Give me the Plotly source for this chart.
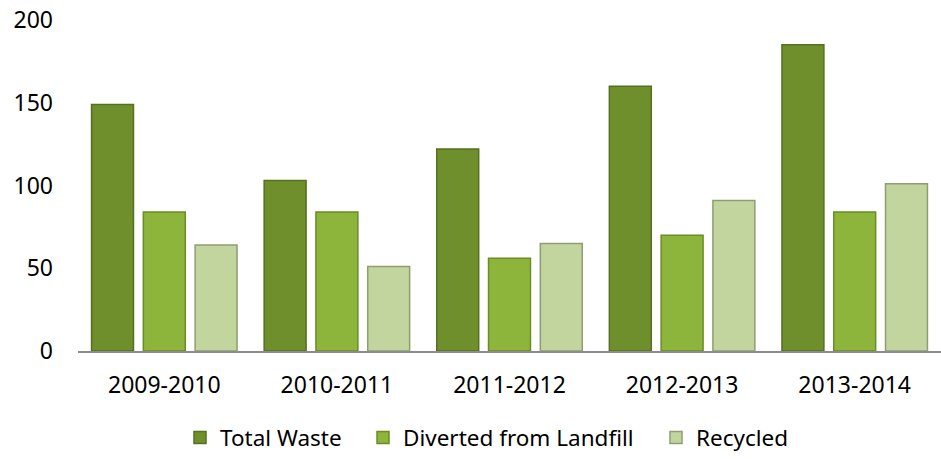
import plotly.graph_objects as go

categories = ["2009-2010", "2010-2011", "2011-2012", "2012-2013", "2013-2014"]
total_waste = [149, 103, 122, 160, 185]
diverted = [84, 84, 56, 70, 84]
recycled = [64, 51, 65, 91, 101]

series = [
    ("Total Waste", total_waste, "#6F8F2D", "#55701F", "legend"),
    ("Diverted from Landfill", diverted, "#8DB53B", "#6B8C27", "legend2"),
    ("Recycled", recycled, "#C2D59E", "#8E9E72", "legend3"),
]

fig = go.Figure()
for name, vals, col, edge, lg in series:
    fig.add_trace(go.Bar(
        name=name, x=categories, y=vals, legend=lg,
        marker=dict(color=col, line=dict(color=edge, width=1.5)),
    ))

font = "Noto Sans, Open Sans, sans-serif"
W = 941
leg_common = dict(orientation="h", xref="container", xanchor="left",
                  yref="container", y=0.046, yanchor="middle",
                  font=dict(size=22.5), itemwidth=30, bgcolor="rgba(0,0,0,0)")
fig.update_layout(
    width=W, height=459,
    margin=dict(l=78, r=0, t=20, b=108),
    paper_bgcolor="white", plot_bgcolor="white",
    barmode="group", bargap=0.1, bargroupgap=0.19,
    font=dict(family=font, size=23, color="#000000"),
    showlegend=True,
    legend=dict(x=180 / W, **leg_common),
    legend2=dict(x=363 / W, **leg_common),
    legend3=dict(x=656 / W, **leg_common),
    xaxis=dict(showgrid=False, showline=True, linecolor="#8C8C8C", linewidth=2,
               ticks="", tickfont=dict(size=23), ticklabelstandoff=12),
    yaxis=dict(range=[0, 200], dtick=50, showgrid=False, zeroline=False,
               showline=False, ticks="", tickfont=dict(size=23),
               ticklabelstandoff=24),
)

fig.write_html("out.html")
